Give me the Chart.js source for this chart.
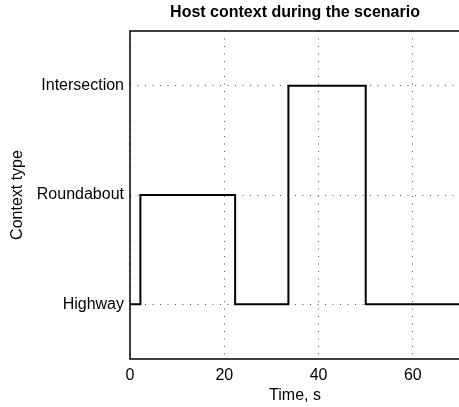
<!DOCTYPE html>
<html>
<head>
<meta charset="utf-8">
<script src="https://cdn.jsdelivr.net/npm/chart.js@4/dist/chart.umd.min.js"></script>
<style>
  html, body { margin: 0; padding: 0; background: #fff; overflow: hidden; }
  #wrap { width: 462px; height: 407px; }
</style>
</head>
<body>
<div id="wrap"><canvas id="miGrafica"></canvas></div>
<script>
// datos
var contextTypes = ['Highway', 'Roundabout', 'Intersection'];
var timeSec = [0, 2.2, 22.3, 33.6, 50, 70];
var contextLevel = [1, 2, 1, 3, 1, 1];
var xTicks = [0, 20, 40, 60];
var yTicks = [1, 2, 3];
var chartTitle = 'Host context during the scenario';

var fontFam = '"Liberation Sans", Arial, Helvetica, sans-serif';

var points = timeSec.map(function (t, i) { return { x: t, y: contextLevel[i] }; });

// marco de los ejes y titulo centrado sobre el area de trazado
var framePlugin = {
  id: 'frame',
  afterDatasetsDraw: function (chart) {
    var a = chart.chartArea, c = chart.ctx;
    c.save();
    c.strokeStyle = '#000';
    c.lineWidth = 1.5;
    c.strokeRect(a.left, a.top, a.right - a.left, a.bottom - a.top);
    c.fillStyle = '#000';
    c.font = 'bold 16px ' + fontFam;
    c.textAlign = 'center';
    c.textBaseline = 'middle';
    c.fillText(chartTitle, (a.left + a.right) / 2, 13);
    c.restore();
  }
};

var ctx = document.getElementById('miGrafica').getContext('2d');
var chart = new Chart(ctx, {
  type: 'line',
  data: {
    datasets: [{
      data: points,
      stepped: true,
      borderColor: '#000',
      borderWidth: 2,
      pointRadius: 0,
      fill: false
    }]
  },
  options: {
    responsive: true,
    maintainAspectRatio: false,
    animation: false,
    layout: { padding: { left: 0, right: 2, top: 31, bottom: 0 } },
    plugins: {
      legend: { display: false },
      tooltip: { enabled: false },
      title: { display: false }
    },
    scales: {
      x: {
        type: 'linear',
        min: 0,
        max: 70,
        afterBuildTicks: function (s) { s.ticks = xTicks.map(function (v) { return { value: v }; }); },
        afterFit: function (s) { s.height = 48; },
        grid: { color: '#555', lineWidth: 1, drawTicks: false },
        border: { display: false, dash: [1, 6.5] },
        ticks: { color: '#000', padding: 7, font: { family: fontFam, size: 16 } },
        title: {
          display: true,
          text: 'Time, s',
          color: '#000',
          font: { family: fontFam, size: 16 },
          padding: { top: 0, bottom: 2 }
        }
      },
      y: {
        type: 'linear',
        min: 0.5,
        max: 3.5,
        afterBuildTicks: function (s) { s.ticks = yTicks.map(function (v) { return { value: v }; }); },
        afterFit: function (s) { s.width = 130; },
        grid: { color: '#555', lineWidth: 1, drawTicks: false },
        border: { display: false, dash: [1, 6.5] },
        ticks: {
          color: '#000',
          padding: 6,
          font: { family: fontFam, size: 16 },
          callback: function (v) { return contextTypes[v - 1]; }
        },
        title: {
          display: true,
          text: 'Context type',
          color: '#000',
          font: { family: fontFam, size: 16 },
          padding: { top: 8, bottom: 0 }
        }
      }
    }
  },
  plugins: [framePlugin]
});
</script>
</body>
</html>
